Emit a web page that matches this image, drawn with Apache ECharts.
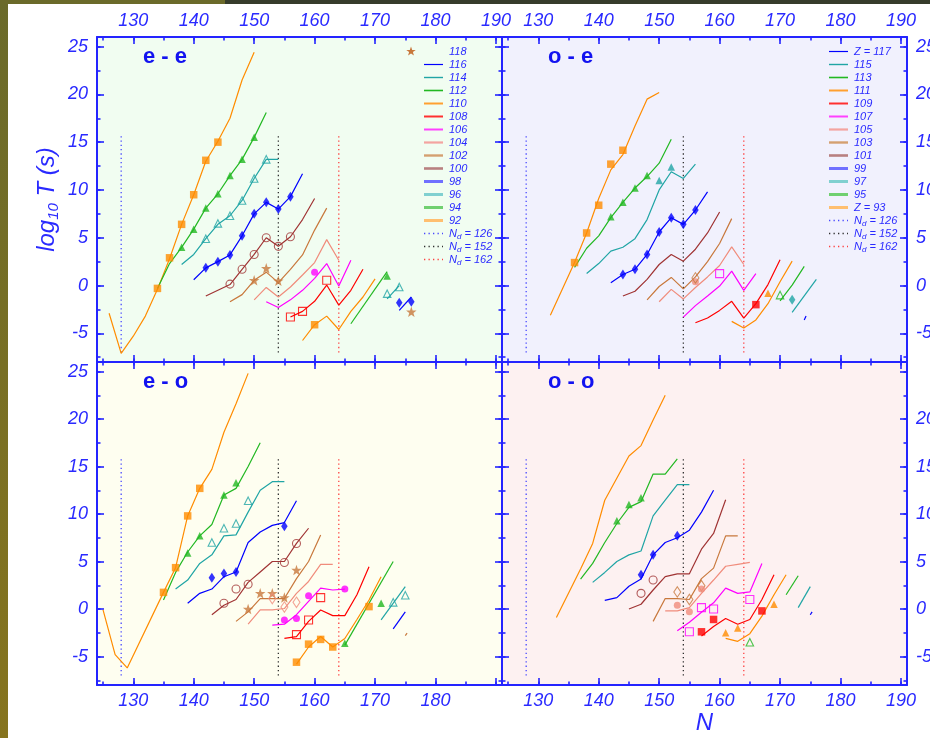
<!DOCTYPE html>
<html><head><meta charset="utf-8">
<script src="https://cdn.jsdelivr.net/npm/echarts@6/dist/echarts.min.js"></script>
<style>html,body{margin:0;padding:0;background:#fff}#c{width:930px;height:738px}</style>
</head><body><div id="c"></div>
<script>
// ---------------- DATA ----------------
// tick labels
const xTickLabelsFull = [130, 140, 150, 160, 170, 180, 190];
const xTickLabelsBL = [130, 140, 150, 160, 170, 180];
const yTickLabelsFull = [-5, 0, 5, 10, 15, 20, 25];
const yTickLabelsBR = [-5, 0, 5, 10, 15, 20];
const panelLabels = ['e - e', 'o - e', 'e - o', 'o - o'];
const ndLines = [128, 154, 164];      // N = Nd + 2
const ndRange = [-7, 15.8];
const legendEE = ['118', '116', '114', '112', '110', '108', '106', '104', '102', '100', '98', '96', '94', '92'];
const legendOE = ['Z = 117', '115', '113', '111', '109', '107', '105', '103', '101', '99', '97', '95', 'Z = 93'];
const legendNd = ['126', '152', '162'];

// ---- e-e panel (theory lines, experimental points) ----
const ee92 = [[126,-2.9],[128,-7.1],[130,-5.3],[132,-3.2],[134,-0.4],[136,2.8],[138,6.4],[140,9.5],[142,13.0],[144,15.1],[146,17.5],[148,21.5],[150,24.4]];
const ee92x = [[134,-0.3],[136,2.9],[138,6.4],[140,9.5],[142,13.1],[144,15.0]];
const ee94 = [[134,-0.3],[136,2.3],[138,4.0],[140,5.9],[142,8.1],[144,9.6],[146,11.5],[148,13.2],[150,15.5],[152,18.1]];
const ee94x = [[138,4.0],[140,5.9],[142,8.1],[144,9.6],[146,11.5],[148,13.2],[150,15.5]];
const ee96 = [[138,2.2],[140,3.25],[142,4.9],[144,6.4],[146,7.3],[148,8.9],[150,11.2],[152,13.2],[154,13.2]];
const ee96x = [[142,4.9],[144,6.5],[146,7.3],[148,8.9],[150,11.2],[152,13.2]];
const ee98 = [[140,0.6],[142,1.85],[144,2.5],[146,3.2],[148,5.2],[150,7.5],[152,8.7],[154,8.0],[156,9.3],[158,11.7]];
const ee98x = [[142,1.85],[144,2.5],[146,3.2],[148,5.2],[150,7.5],[152,8.7],[154,8.0],[156,9.3]];
const ee100 = [[142,-1.1],[146,0.1],[148,1.7],[150,3.25],[152,5.0],[154,4.1],[156,5.1],[158,6.9],[160,9.1]];
const ee100x = [[146,0.15],[148,1.7],[150,3.25],[152,5.0],[154,4.1],[156,5.1]];
const ee102 = [[146,-1.7],[148,-0.95],[150,0.55],[152,1.4],[154,0.3],[156,1.7],[158,3.2],[160,5.8],[162,8.1]];
const ee102x = [[150,0.55],[152,1.8],[154,0.5]];
const ee104 = [[150,-1.5],[152,-0.2],[154,-1.2],[156,-0.15],[158,1.1],[160,2.4],[162,4.8],[164,2.65]];
const ee106 = [[152,-1.7],[154,-2.3],[156,-1.5],[158,-0.5],[160,0.75],[162,2.3],[164,-0.05],[166,2.65]];
const ee106x = [[160,1.4]];
const ee108 = [[156,-3.3],[158,-2.7],[160,-1.65],[162,0.05],[164,-2.05],[166,-0.5],[168,1.7]];
const ee108x = [[156,-3.3],[158,-2.7],[162,0.55]];
const ee110 = [[158,-5.75],[160,-4.1],[162,-3.2],[164,-4.6],[166,-2.7],[168,-1.2],[170,0.7]];
const ee110x = [[160,-4.1]];
const ee112 = [[166,-4.0],[172,1.45]];
const ee112x = [[172,1.0]];
const ee114 = [[172,-1.4],[174,0.0]];
const ee114x = [[172,-0.85],[174,-0.15]];
const ee116 = [[174,-2.6],[176,-1.2]];
const ee116x = [[174,-1.8],[176,-1.7]];
const ee118x = [[176,-2.75]];

// ---- o-e panel ----
const oe93 = [[132,-3.1],[136,2.4],[138,5.5],[140,9.1],[142,12.1],[144,13.7],[146,16.7],[148,19.5],[150,20.2]];
const oe93x = [[136,2.4],[138,5.5],[140,8.4],[142,12.7],[144,14.15]];
const oe95 = [[136,1.9],[138,3.9],[140,5.2],[142,7.1],[144,8.7],[146,10.2],[148,11.4],[150,12.8],[152,15.3]];
const oe95x = [[142,7.2],[144,8.7],[146,10.2],[148,11.5]];
const oe97 = [[138,1.25],[140,2.3],[142,3.6],[144,4.0],[146,4.9],[148,6.9],[150,10.0],[152,11.9],[154,11.2],[156,12.7]];
const oe97x = [[150,11.0],[152,12.4]];
const oe99 = [[142,0.3],[144,1.15],[146,1.7],[148,3.25],[150,5.6],[152,7.1],[154,6.4],[156,7.9],[158,9.8]];
const oe99x = [[144,1.15],[146,1.7],[148,3.25],[150,5.6],[152,7.1],[154,6.4],[156,7.9]];
const oe101 = [[144,-1.1],[146,-0.6],[148,0.65],[150,2.2],[152,3.25],[154,2.55],[156,3.8],[158,5.5],[160,7.7]];
const oe103 = [[148,-1.5],[150,-0.1],[152,0.85],[154,-0.35],[156,0.9],[158,2.5],[160,4.4],[162,7.0]];
const oe103x = [[156,0.8]];
const oe105 = [[150,-1.7],[152,-0.4],[154,-1.4],[156,-0.2],[158,0.9],[160,2.1],[162,4.05],[164,2.2]];
const oe105x = [[156,0.4]];
const oe107 = [[154,-3.3],[156,-2.1],[158,-1.1],[160,-0.05],[162,1.5],[164,-0.5],[166,1.25]];
const oe107x = [[160,1.25]];
const oe109 = [[156,-3.9],[158,-3.4],[160,-2.6],[162,-1.65],[164,-3.4],[166,-1.9],[168,0.1],[170,2.7]];
const oe109x = [[166,-2.0]];
const oe111 = [[162,-3.75],[164,-4.45],[166,-3.6],[168,-1.9],[170,0.4],[172,2.55]];
const oe111x = [[168,-0.8]];
const oe113 = [[170,-1.6],[172,0.05],[174,2.0]];
const oe113x = [[170,-1.0]];
const oe115 = [[172,-2.8],[176,0.65]];
const oe115x = [[172,-1.5]];
const oe117 = [[174,-3.6],[174.3,-3.2]];

// ---- e-o panel ----
const eo92 = [[125,-0.1],[127,-4.8],[129,-6.2],[135,1.75],[137,4.35],[139,9.8],[141,12.7],[143,14.7],[145,18.6],[147,21.6],[149,24.8]];
const eo92x = [[135,1.75],[137,4.35],[139,9.8],[141,12.7]];
const eo94 = [[135,0.95],[137,3.85],[139,6.0],[141,7.7],[143,8.9],[145,12.0],[147,12.7],[149,15.0],[151,17.5]];
const eo94x = [[139,5.9],[141,7.7],[145,12.0],[147,13.3]];
const eo96 = [[137,2.1],[139,3.05],[141,4.8],[143,5.7],[145,7.7],[147,7.8],[149,10.2],[151,12.5],[153,13.4],[155,13.4]];
const eo96x = [[143,7.0],[145,8.5],[147,9.0],[149,11.4]];
const eo98 = [[139,0.6],[141,1.65],[143,2.1],[145,3.4],[147,3.9],[149,7.0],[151,8.1],[153,8.8],[155,9.1],[157,11.4]];
const eo98x = [[143,3.3],[145,3.75],[147,3.9],[155,8.7]];
const eo100 = [[143,-0.6],[145,0.4],[147,1.0],[149,2.8],[151,3.9],[153,5.0],[155,5.0],[157,6.9],[159,8.5]];
const eo100x = [[145,0.6],[147,2.1],[149,2.6],[155,4.9],[157,6.9]];
const eo102 = [[147,-1.3],[149,-0.3],[151,1.1],[153,1.1],[155,1.1],[157,3.2],[159,5.0],[161,7.8]];
const eo102x = [[149,0.0],[151,1.65],[153,1.65],[155,1.2],[157,4.1]];
const eo104 = [[149,-1.6],[151,-0.1],[153,-0.1],[155,0.05],[157,1.65],[159,2.9],[161,4.7],[163,4.7]];
const eo104x = [[153,1.1],[155,0.2],[157,0.7]];
const eo106 = [[153,-1.7],[155,-1.6],[157,-0.6],[159,0.8],[161,2.2],[163,2.0],[165,2.1]];
const eo106x = [[155,-1.15],[157,-1.0],[159,1.4],[165,2.1]];
const eo108 = [[155,-3.1],[157,-2.9],[159,-1.3],[161,-0.1],[163,-0.7],[165,-0.7],[167,1.5],[169,4.45]];
const eo108x = [[157,-2.7],[159,-1.15],[161,1.2]];
const eo110 = [[157,-5.8],[159,-4.0],[161,-2.9],[163,-4.0],[165,-3.1],[167,-1.1],[169,0.95],[171,3.4]];
const eo110x = [[157,-5.6],[159,-3.7],[161,-3.2],[163,-4.0],[169,0.25]];
const eo112 = [[165,-3.8],[173,5.0]];
const eo112x = [[165,-3.6],[171,0.6]];
const eo114 = [[171,-1.15],[175,2.35]];
const eo114x = [[173,0.7],[175,1.45]];
const eo116 = [[173,-2.1],[175,-0.3]];
const eo118 = [[175,-2.8],[175.3,-2.55]];

// ---- o-o panel ----
const oo93 = [[133,-0.9],[137,4.2],[139,6.9],[141,11.45],[145,16.1],[147,17.2],[149,19.9],[151,22.5]];
const oo95 = [[137,3.15],[139,4.8],[141,7.0],[143,9.0],[145,10.7],[147,11.3],[149,14.2],[151,14.2],[153,15.8]];
const oo95x = [[143,9.3],[145,11.0],[147,11.7]];
const oo97 = [[139,2.8],[141,3.85],[143,5.0],[145,5.7],[147,6.1],[149,9.8],[151,11.45],[153,13.1],[155,13.1]];
const oo99 = [[141,0.9],[143,1.2],[145,2.4],[147,3.15],[149,5.7],[151,7.0],[153,7.5],[155,8.3],[157,10.2],[159,12.5]];
const oo99x = [[147,3.6],[149,5.7],[153,7.7]];
const oo101 = [[145,0.0],[147,0.5],[149,2.0],[151,3.4],[153,3.7],[155,3.7],[157,6.3],[159,7.95],[161,11.5]];
const oo101x = [[147,1.65],[149,3.05]];
const oo103 = [[149,-1.3],[151,1.1],[153,1.1],[155,1.0],[157,3.2],[159,4.3],[161,7.7],[163,7.7]];
const oo103x = [[153,1.8],[155,1.0],[157,2.45]];
const oo105 = [[151,-0.2],[153,-0.2],[155,0.15],[157,1.65],[159,3.05],[161,4.5],[163,4.7],[165,4.9]];
const oo105x = [[153,0.4],[155,-0.3],[157,2.1]];
const oo107 = [[153,-2.3],[155,-1.4],[157,-0.35],[159,0.65],[161,2.2],[163,1.65],[165,1.8],[167,4.8]];
const oo107x = [[155,-2.4],[157,0.15],[159,0.0],[165,1.0]];
const oo109 = [[157,-2.85],[159,-1.85],[161,-1.0],[163,-1.6],[165,-1.1],[167,1.0],[169,3.6]];
const oo109x = [[157,-2.4],[159,-1.1],[167,-0.2]];
const oo111 = [[161,-3.1],[163,-3.4],[165,-2.6],[167,-0.75],[169,1.5],[171,3.6]];
const oo111x = [[161,-2.5],[163,-2.0],[169,0.5]];
const oo113 = [[171,1.5],[173,3.5]];
const oo113x = [[165,-3.5]];
const oo115 = [[173,0.15],[175,2.35]];
const oo117 = [[175,-0.6],[175.3,-0.3]];

// ---------------- STYLE ----------------
const FONT = '"Liberation Sans", Arial, sans-serif';
const AX = '#2424ff', TXT = '#2a2aff';
const OR = '#ff8c00', GR = '#22b822', TE = '#20a5a5', BL = '#0000ff', BR = '#a03434',
      TA = '#c8783c', SA = '#f08c7c', MA = '#ff00ff', RE = '#ff0000';
const ND_COL = ['#4848ff', '#303030', '#ff4040'];
const STAR = 'path://M0,-10 L2.35,-3.24 L9.51,-3.09 L3.8,1.24 L5.88,8.09 L0,4 L-5.88,8.09 L-3.8,1.24 L-9.51,-3.09 L-2.35,-3.24 Z';
const STAR_PTS = [[0,-10],[2.35,-3.24],[9.51,-3.09],[3.8,1.24],[5.88,8.09],[0,4],[-5.88,8.09],[-3.8,1.24],[-9.51,-3.09],[-2.35,-3.24]];

const lineSpecs = [
  [0, ee92, OR], [0, ee94, GR], [0, ee96, TE], [0, ee98, BL], [0, ee100, BR], [0, ee102, TA], [0, ee104, SA],
  [0, ee106, MA], [0, ee108, RE], [0, ee110, OR], [0, ee112, GR], [0, ee114, TE], [0, ee116, BL],
  [1, oe93, OR], [1, oe95, GR], [1, oe97, TE], [1, oe99, BL], [1, oe101, BR], [1, oe103, TA], [1, oe105, SA],
  [1, oe107, MA], [1, oe109, RE], [1, oe111, OR], [1, oe113, GR], [1, oe115, TE], [1, oe117, BL],
  [2, eo92, OR], [2, eo94, GR], [2, eo96, TE], [2, eo98, BL], [2, eo100, BR], [2, eo102, TA], [2, eo104, SA],
  [2, eo106, MA], [2, eo108, RE], [2, eo110, OR], [2, eo112, GR], [2, eo114, TE], [2, eo116, BL], [2, eo118, TA],
  [3, oo93, OR], [3, oo95, GR], [3, oo97, TE], [3, oo99, BL], [3, oo101, BR], [3, oo103, TA], [3, oo105, SA],
  [3, oo107, MA], [3, oo109, RE], [3, oo111, OR], [3, oo113, GR], [3, oo115, TE], [3, oo117, BL]
];
const markSpecs = [
  [0, ee92x, 'sqF', OR], [0, ee94x, 'triF', GR], [0, ee96x, 'triO', TE], [0, ee98x, 'diaF', BL],
  [0, ee100x, 'cirO', BR], [0, ee102x, 'star', TA], [0, ee106x, 'cirF', MA], [0, ee108x, 'sqO', RE],
  [0, ee110x, 'sqF', OR], [0, ee112x, 'triF', GR], [0, ee114x, 'triO', TE], [0, ee116x, 'diaF', BL], [0, ee118x, 'star', TA],
  [1, oe93x, 'sqF', OR], [1, oe95x, 'triF', GR], [1, oe97x, 'triF', TE], [1, oe99x, 'diaF', BL],
  [1, oe105x, 'cirF', SA], [1, oe103x, 'diaO', TA], [1, oe107x, 'sqO', MA], [1, oe109x, 'sqF', RE],
  [1, oe111x, 'triF', OR], [1, oe113x, 'triO', GR], [1, oe115x, 'diaF', TE],
  [2, eo92x, 'sqF', OR], [2, eo94x, 'triF', GR], [2, eo96x, 'triO', TE], [2, eo98x, 'diaF', BL],
  [2, eo100x, 'cirO', BR], [2, eo102x, 'star', TA], [2, eo104x, 'diaO', SA], [2, eo106x, 'cirF', MA],
  [2, eo108x, 'sqO', RE], [2, eo110x, 'sqF', OR], [2, eo112x, 'triF', GR], [2, eo114x, 'triO', TE],
  [3, oo95x, 'triF', GR], [3, oo99x, 'diaF', BL], [3, oo101x, 'cirO', BR], [3, oo103x, 'diaO', TA],
  [3, oo105x, 'cirF', SA], [3, oo107x, 'sqO', MA], [3, oo109x, 'sqF', RE], [3, oo111x, 'triF', OR], [3, oo113x, 'triO', GR]
];

function markerStyle(shape, color) {
  const open = {color: 'rgba(0,0,0,0)', borderColor: color, borderWidth: 1.1};
  switch (shape) {
    case 'sqF': return {symbol: 'rect', symbolSize: 7.5, itemStyle: {color}};
    case 'sqO': return {symbol: 'rect', symbolSize: 8, itemStyle: open};
    case 'triF': return {symbol: 'triangle', symbolSize: 7.5, itemStyle: {color}};
    case 'triO': return {symbol: 'triangle', symbolSize: 7.5, itemStyle: open};
    case 'diaF': return {symbol: 'diamond', symbolSize: [6.5, 10], itemStyle: {color}};
    case 'diaO': return {symbol: 'diamond', symbolSize: [7, 10.5], itemStyle: open};
    case 'cirF': return {symbol: 'circle', symbolSize: 7, itemStyle: {color}};
    case 'cirO': return {symbol: 'circle', symbolSize: 8, itemStyle: open};
    case 'star': return {symbol: STAR, symbolSize: 10.5, itemStyle: {color}};
  }
}

const grids = [
  {left: 97, top: 37, width: 405, height: 325, bg: '#f1fdf1'},
  {left: 502, top: 37, width: 405, height: 325, bg: '#f1f1fd'},
  {left: 97, top: 362, width: 405, height: 323, bg: '#fefef0'},
  {left: 502, top: 362, width: 405, height: 323, bg: '#fdf1f1'}
];
// label sets per grid: [xBottom, xTop, yLeft, yRight]
const labelSets = [
  [null, xTickLabelsFull, yTickLabelsFull, null],
  [null, xTickLabelsFull, null, yTickLabelsFull],
  [xTickLabelsBL, null, yTickLabelsFull, null],
  [xTickLabelsFull, null, null, yTickLabelsBR]
];

function lbl(labels, margin) {
  if (!labels) return {show: false};
  return {show: true, margin, color: TXT, fontSize: 18, fontStyle: 'italic', fontFamily: FONT,
    formatter: v => labels.includes(v) ? String(v) : ''};
}
function xAx(g, pos, major, labels) {
  return {
    gridIndex: g, type: 'value', position: pos, min: 124, max: 191,
    minInterval: major ? 10 : 5, maxInterval: major ? 10 : 5,
    axisLine: {show: major, onZero: false, lineStyle: {color: AX, width: 2}},
    axisTick: {show: true, inside: true, length: major ? 7 : 3.5, lineStyle: {color: AX, width: 1.6}},
    splitLine: {show: false}, minorTick: {show: false},
    axisLabel: lbl(major ? labels : null, pos === 'top' ? 7 : 7)
  };
}
function yAx(g, pos, major, labels) {
  return {
    gridIndex: g, type: 'value', position: pos, min: -8, max: 26,
    minInterval: major ? 5 : 2.5, maxInterval: major ? 5 : 2.5,
    axisLine: {show: major, onZero: false, lineStyle: {color: AX, width: 2}},
    axisTick: {show: true, inside: true, length: major ? 7 : 3.5, lineStyle: {color: AX, width: 1.6}},
    splitLine: {show: false}, minorTick: {show: false},
    axisLabel: lbl(major ? labels : null, 9)
  };
}

const xAxis = [], yAxis = [];
grids.forEach((gr, g) => {
  const L = labelSets[g];
  xAxis.push(xAx(g, 'bottom', true, L[0]), xAx(g, 'top', true, L[1]), xAx(g, 'bottom', false), xAx(g, 'top', false));
  yAxis.push(yAx(g, 'left', true, L[2]), yAx(g, 'right', true, L[3]), yAx(g, 'left', false), yAx(g, 'right', false));
});
// axis titles
Object.assign(yAxis[0], {
  name: '{a|log}{b|10}{a| T (s)}', nameLocation: 'middle', nameGap: 36,
  nameTextStyle: {color: TXT, fontFamily: FONT, fontStyle: 'italic', fontSize: 24,
    rich: {a: {color: TXT, fontFamily: FONT, fontStyle: 'italic', fontSize: 24},
           b: {color: TXT, fontFamily: FONT, fontStyle: 'italic', fontSize: 15, padding: [12, 0, 0, 0]}}}
});
Object.assign(xAxis[12], {
  name: 'N', nameLocation: 'middle', nameGap: 26,
  nameTextStyle: {color: TXT, fontFamily: FONT, fontStyle: 'italic', fontSize: 24}
});

const series = [];
// Nd vertical dotted lines
grids.forEach((gr, g) => {
  ndLines.forEach((n, k) => {
    series.push({type: 'line', xAxisIndex: g * 4, yAxisIndex: g * 4, data: [[n, ndRange[0]], [n, ndRange[1]]],
      symbol: 'none', silent: true, z: 1,
      lineStyle: {color: ND_COL[k], width: 1.3, type: [1.3, 3]}});
  });
});
lineSpecs.forEach(([g, d, c]) => series.push({
  type: 'line', xAxisIndex: g * 4, yAxisIndex: g * 4, data: d, symbol: 'none', silent: true, z: 2,
  lineStyle: {color: c, width: 1.2}
}));
markSpecs.forEach(([g, d, s, c]) => series.push(Object.assign({
  type: 'scatter', xAxisIndex: g * 4, yAxisIndex: g * 4, data: d, silent: true, z: 3
}, markerStyle(s, c))));

// ---- decorations, panel labels and legends (graphic) ----
const graphic = [
  {type: 'rect', shape: {x: 0, y: 0, width: 8, height: 738}, z: 100,
   style: {fill: new echarts.graphic.LinearGradient(0, 0, 0, 1, [{offset: 0, color: '#6a6a2a'}, {offset: 1, color: '#86741e'}])}},
  {type: 'rect', shape: {x: 0, y: 0, width: 225, height: 4}, z: 100, style: {fill: '#6b6a2a'}},
  {type: 'rect', shape: {x: 225, y: 0, width: 705, height: 4}, z: 100, style: {fill: '#363c2b'}}
];
const panelPos = [[143, 57], [548, 57], [143, 382], [548, 382]];
panelLabels.forEach((t, i) => graphic.push({type: 'text', x: panelPos[i][0], y: panelPos[i][1], z: 50,
  style: {text: t, fill: '#1212f0', font: 'bold 22px ' + FONT, verticalAlign: 'middle', textVerticalAlign: 'middle'}}));

const legColEE = [null, BL, TE, GR, '#ffa030', '#ff3030', '#ff40ff', '#f4a4a0', '#d4a070', '#b88080', '#7070ff', '#80d0d0', '#70d070', '#ffbf70'];
const legWEE = [0, 1.2, 1.4, 1.6, 2, 2, 2, 2.2, 2.4, 2.6, 3, 3, 3, 3];
const legColOE = [BL, TE, GR, '#ffa030', '#ff3030', '#ff40ff', '#f4a4a0', '#d4a070', '#b88080', '#7070ff', '#80d0d0', '#70d070', '#ffbf70'];
const legWOE = [1.2, 1.4, 1.6, 2, 2, 2, 2.2, 2.4, 2.6, 3, 3, 3, 3];
const legTxtStyle = {fill: TXT, font: 'italic 11px ' + FONT, verticalAlign: 'middle', textVerticalAlign: 'middle'};
function rowY(i) { return 51.5 + 13 * i; }
function addLegend(names, cols, widths, x1, x2, tx, startRow) {
  names.forEach((nm, i) => {
    const y = rowY(startRow + i);
    if (cols[i]) graphic.push({type: 'line', z: 50, shape: {x1, y1: y, x2, y2: y}, style: {stroke: cols[i], lineWidth: widths[i]}});
    graphic.push({type: 'text', x: tx, y, z: 50, style: Object.assign({text: nm}, legTxtStyle)});
  });
  const base = startRow + names.length;
  legendNd.forEach((nd, k) => {
    const y = rowY(base + k);
    graphic.push({type: 'line', z: 50, shape: {x1, y1: y, x2, y2: y}, style: {stroke: ND_COL[k], lineWidth: 1.5, lineDash: [1.3, 3.2]}});
    graphic.push({type: 'text', x: tx, y, z: 50, style: {
      text: '{i|N}{s|d}{i| = ' + nd + '}', verticalAlign: 'middle', textVerticalAlign: 'middle',
      rich: {i: {fill: TXT, font: 'italic 11px ' + FONT}, s: {fill: TXT, font: 'italic 8px ' + FONT, padding: [6, 0, 0, 0]}}}});
  });
}
addLegend(legendEE, legColEE, legWEE, 424, 443, 449, 0);
graphic.push({type: 'polygon', z: 50, x: 411, y: rowY(0), scaleX: 0.5, scaleY: 0.5,
  shape: {points: STAR_PTS}, style: {fill: TA}});
addLegend(legendOE, legColOE, legWOE, 829, 848, 854, 0);

const chart = echarts.init(document.getElementById('c'), null, {renderer: 'canvas'});
chart.setOption({
  animation: false,
  backgroundColor: '#ffffff',
  grid: grids.map(g => ({left: g.left, top: g.top, width: g.width, height: g.height, show: true,
    backgroundColor: g.bg, borderWidth: 0, containLabel: false, outerBoundsMode: 'none'})),
  xAxis, yAxis, series, graphic
});
</script></body></html>
